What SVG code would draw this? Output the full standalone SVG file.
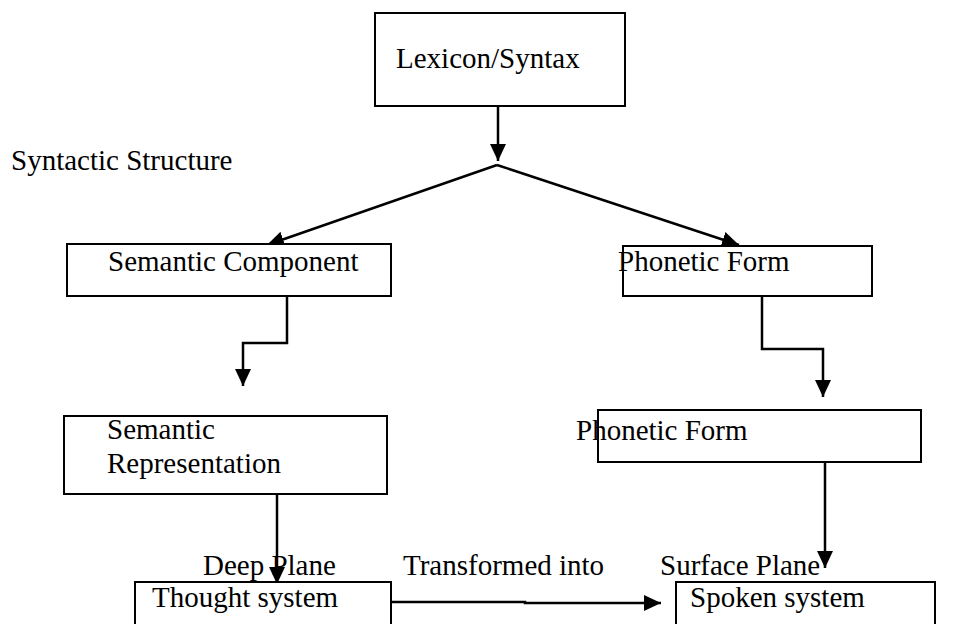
<svg xmlns="http://www.w3.org/2000/svg" width="955" height="624" viewBox="0 0 955 624">
<style>
.box{fill:#fff;stroke:#000;stroke-width:2}
.t{font-family:"Liberation Serif","Times New Roman",serif;font-size:29px;fill:#000}
.c{fill:none;stroke:#000;stroke-width:2.5}
</style>
<defs>
<marker id="ah" markerUnits="userSpaceOnUse" markerWidth="18" markerHeight="18" viewBox="0 0 18 18" refX="17" refY="9" orient="auto">
<path d="M0,1 L17,9 L0,17 Z" fill="#000"/>
</marker>
</defs>
<rect width="955" height="624" fill="#fff"/>
<g id="connectors">
<path class="c" d="M498,106 V161" marker-end="url(#ah)"/>
<path class="c" d="M497,165 L267,245" marker-end="url(#ah)"/>
<path class="c" d="M497,165 L739,245" marker-end="url(#ah)"/>
<path class="c" d="M287,296 V343 H243 V386" marker-end="url(#ah)"/>
<path class="c" d="M762,296 V349 H823 V397" marker-end="url(#ah)"/>
<path class="c" d="M825,462 V568" marker-end="url(#ah)"/>
<path class="c" d="M277,494 V584" marker-end="url(#ah)"/>
<path class="c" d="M391,602 H525 V603 H661" marker-end="url(#ah)"/>
</g>
<g id="label-syntactic">
<text class="t" x="11" y="170">Syntactic Structure</text>
</g>
<g id="node-lexicon">
<rect class="box" x="375" y="13" width="250" height="93"/>
<text class="t" x="396" y="68">Lexicon/Syntax</text>
</g>
<g id="node-semantic-component">
<rect class="box" x="67" y="244" width="324" height="52"/>
<text class="t" x="108" y="271">Semantic Component</text>
</g>
<g id="node-phonetic-form-1">
<rect class="box" x="623" y="246" width="249" height="50"/>
<text class="t" x="618" y="271">Phonetic Form</text>
</g>
<g id="node-semantic-representation">
<rect class="box" x="64" y="416" width="323" height="78"/>
<text class="t" x="107" y="439">Semantic</text>
<text class="t" x="107" y="473">Representation</text>
</g>
<g id="node-phonetic-form-2">
<rect class="box" x="598" y="410" width="323" height="52"/>
<text class="t" x="576" y="440">Phonetic Form</text>
</g>
<g id="labels-planes">
<text class="t" x="203" y="575">Deep Plane</text>
<text class="t" x="403" y="575">Transformed into</text>
<text class="t" x="660" y="575">Surface Plane</text>
</g>
<g id="node-thought">
<path class="box" d="M135,630 V582 H391 V630"/>
<text class="t" x="152" y="607">Thought system</text>
</g>
<g id="node-spoken">
<path class="box" d="M676,630 V582 H935 V630"/>
<text class="t" x="690" y="607">Spoken system</text>
</g>
</svg>
